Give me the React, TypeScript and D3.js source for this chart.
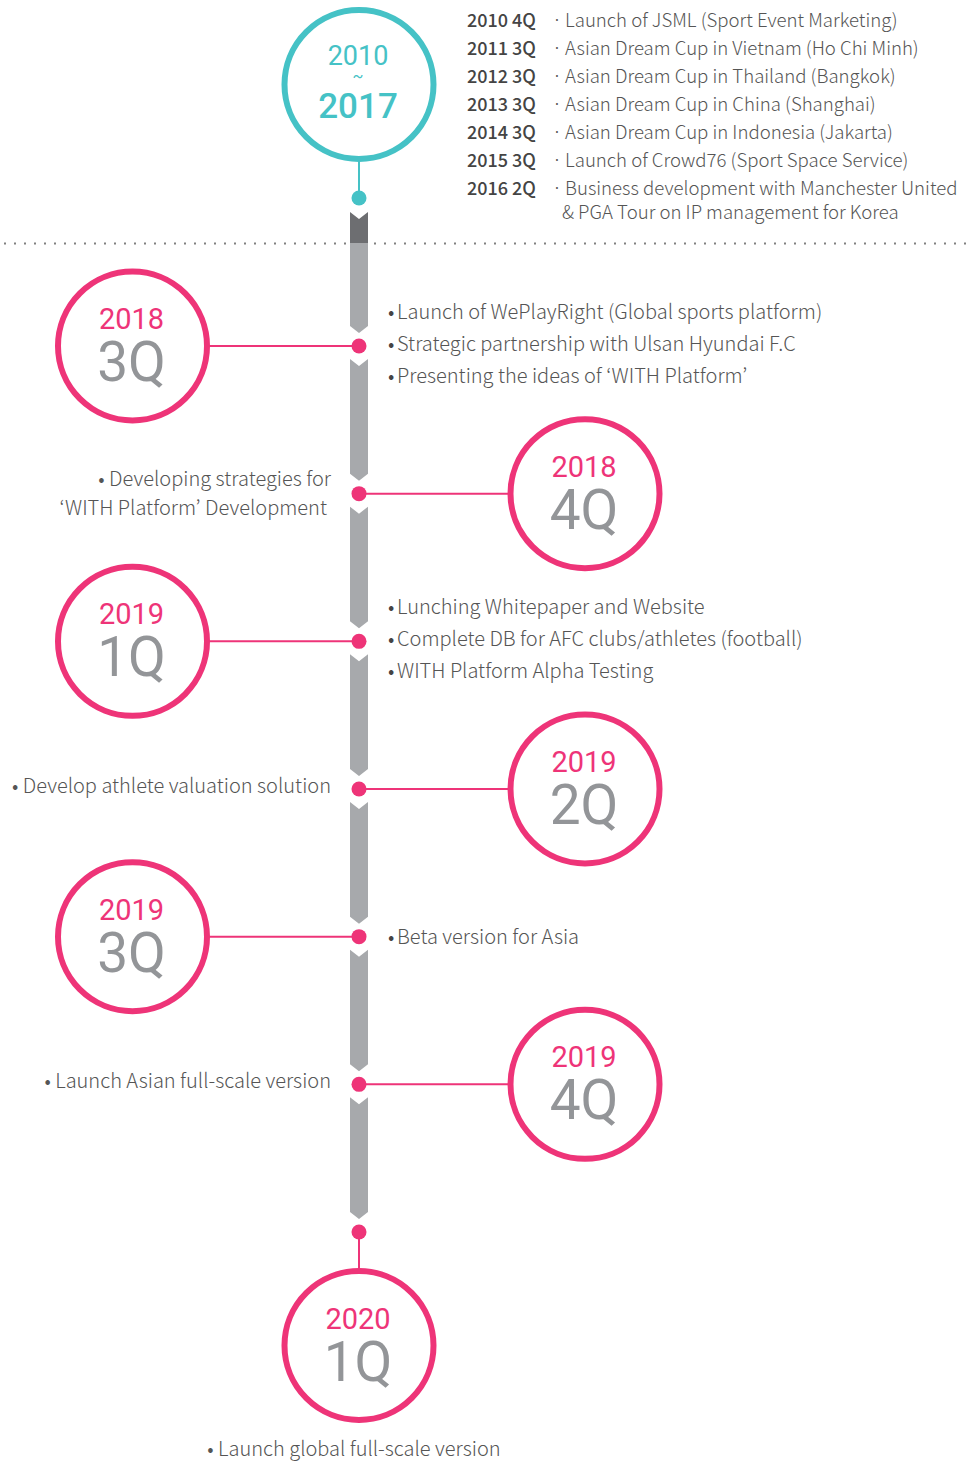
import * as d3 from "d3";
import React from "react";

// early history (2010 ~ 2017)
const historyPeriods = ["2010 4Q", "2011 3Q", "2012 3Q", "2013 3Q", "2014 3Q", "2015 3Q", "2016 2Q"];
const historyEvents = [
  ["Launch of JSML (Sport Event Marketing)"],
  ["Asian Dream Cup in Vietnam (Ho Chi Minh)"],
  ["Asian Dream Cup in Thailand (Bangkok)"],
  ["Asian Dream Cup in China (Shanghai)"],
  ["Asian Dream Cup in Indonesia (Jakarta)"],
  ["Launch of Crowd76 (Sport Space Service)"],
  ["Business development with Manchester United", "& PGA Tour on IP management for Korea"],
];

// roadmap milestones
const years = ["2018", "2018", "2019", "2019", "2019", "2019", "2020"];
const quarters = ["3Q", "4Q", "1Q", "2Q", "3Q", "4Q", "1Q"];
const sides = ["left", "right", "left", "right", "left", "right", "bottom"];
const items = [
  ["Launch of WePlayRight (Global sports platform)", "Strategic partnership with Ulsan Hyundai F.C", "Presenting the ideas of \u2018WITH Platform\u2019"],
  ["Developing strategies for", "\u2018WITH Platform\u2019 Development"],
  ["Lunching Whitepaper and Website", "Complete DB for AFC clubs/athletes (football)", "WITH Platform Alpha Testing"],
  ["Develop athlete valuation solution"],
  ["Beta version for Asia"],
  ["Launch Asian full-scale version"],
  ["Launch global full-scale version"],
];

const W = 968;
const H = 1461;
const TEAL = "#45c2c6";
const PINK = "#ee3478";
const BAR = "#a7a9ac";
const BAR_DARK = "#6d6e71";
const QGRAY = "#939598";
const TEXT = "#555555";
const BODY_FONT = "'Noto Sans CJK KR', 'Noto Sans', sans-serif";
const NUM_FONT = "Roboto, sans-serif";

export default function App() {
  const cx = 359;
  const barL = 350;
  const barR = 368;
  const R = 74.5;
  const y = d3.scaleLinear().domain([0, years.length - 1]).range([346, 1232]);
  const xCircle = d3.scaleOrdinal<string, number>().domain(["left", "right", "bottom"]).range([132.5, 585, 359]);

  const seg = (top: number, bot: number, notch: boolean, tip: boolean, d = 7) => {
    const p = d3.path();
    p.moveTo(barL, top);
    if (notch) p.lineTo(cx, top + d);
    p.lineTo(barR, top);
    p.lineTo(barR, bot);
    if (tip) p.lineTo(cx, bot + d);
    p.lineTo(barL, bot);
    p.closePath();
    return p.toString();
  };

  const segments: string[] = [];
  segments.push(seg(243, y(0) - 20, false, true));
  for (let i = 0; i < years.length - 1; i++) {
    segments.push(seg(y(i) + 13, y(i + 1) - 20, true, true));
  }

  const histY = d3.scaleLinear().domain([0, 1]).range([27, 55]);

  return (
    <svg width={W} height={H} style={{ position: "absolute", left: 0, top: 0, background: "#fff" }}>
      {/* dotted divider */}
      <line x1={4} x2={W} y1={243.5} y2={243.5} stroke="#808080" strokeWidth={2} strokeDasharray="2 8" />

      {/* bar */}
      <path d={seg(212, 243, true, false)} fill={BAR_DARK} />
      {segments.map((d, i) => (
        <path key={i} d={d} fill={BAR} />
      ))}

      {/* top history circle */}
      <line x1={cx} x2={cx} y1={84.5 + R} y2={198} stroke={TEAL} strokeWidth={2} />
      <circle cx={cx} cy={198} r={7.5} fill={TEAL} />
      <circle cx={cx} cy={84.5} r={R} fill="#fff" stroke={TEAL} strokeWidth={6} />
      <g fontFamily={NUM_FONT} fill={TEAL} textAnchor="middle">
        <text x={cx - 1} y={65} fontSize={27}>2010</text>
        <text x={cx - 1} y={82} fontSize={16}>~</text>
        <text x={cx - 1} y={118} fontSize={35} fontWeight={500}>2017</text>
      </g>

      {/* history list */}
      <g fontFamily={BODY_FONT} fontSize={18.6}>
        {historyPeriods.map((p, i) => (
          <g key={p}>
            <text y={histY(i)} fill={TEXT} fontWeight={300}>
              <tspan x={467} fill="#444" fontWeight={500} fontSize={18}>{p}</tspan>
              <tspan x={552}>{"\u00B7"}</tspan>
              <tspan x={565}>{historyEvents[i][0]}</tspan>
            </text>
            {historyEvents[i].slice(1).map((t, j) => (
              <text key={j} x={562} y={histY(i) + (j + 1) * 24} fill={TEXT} fontWeight={300}>{t}</text>
            ))}
          </g>
        ))}
      </g>

      {/* milestones */}
      {years.map((yr, i) => {
        const side = sides[i];
        const ccx = xCircle(side);
        const cy = side === "bottom" ? 1345.5 : y(i);
        const dotY = y(i);
        return (
          <g key={i}>
            {side === "left" && <line x1={ccx + R} x2={cx} y1={dotY} y2={dotY} stroke={PINK} strokeWidth={2} />}
            {side === "right" && <line x1={cx} x2={ccx - R} y1={dotY} y2={dotY} stroke={PINK} strokeWidth={2} />}
            {side === "bottom" && <line x1={cx} x2={cx} y1={dotY} y2={cy - R} stroke={PINK} strokeWidth={2} />}
            <circle cx={cx} cy={dotY} r={7.5} fill={PINK} />
            <circle cx={ccx} cy={cy} r={R} fill="#fff" stroke={PINK} strokeWidth={6} />
            <text x={ccx - 1} y={cy - 17} textAnchor="middle" fontFamily={NUM_FONT} fontSize={29} fill={PINK}>{yr}</text>
            <text x={ccx - 1} y={cy + 35} textAnchor="middle" fontFamily={NUM_FONT} fontSize={55} fill={QGRAY}>{quarters[i]}</text>
            <g fontFamily={BODY_FONT} fontSize={20} fill={TEXT} fontWeight={300}>
              {side === "left" &&
                items[i].map((t, j) => (
                  <text key={j} x={397} y={dotY - 27 + j * 32 + (3 - items[i].length) * 16 + (items[i].length === 1 ? 2 : 0)}>
                    <tspan x={388} fill="#444">{"\u2022"}</tspan>
                    <tspan x={397}>{t}</tspan>
                  </text>
                ))}
              {side === "right" &&
                items[i].map((t, j) => {
                  const ty = dotY + 7 - (items[i].length - 1) * 14.5 + j * 29 - (items[i].length === 1 ? 3 : 0);
                  return (
                    <text key={j} x={j === 0 || items[i].length === 1 ? 331 : 327} y={ty} textAnchor="end">
                      {j === 0 ? "\u2022 " + t : t}
                    </text>
                  );
                })}
              {side === "bottom" && (
                <text x={354} y={1456} textAnchor="middle">{"\u2022 " + items[i][0]}</text>
              )}
            </g>
          </g>
        );
      })}
    </svg>
  );
}
